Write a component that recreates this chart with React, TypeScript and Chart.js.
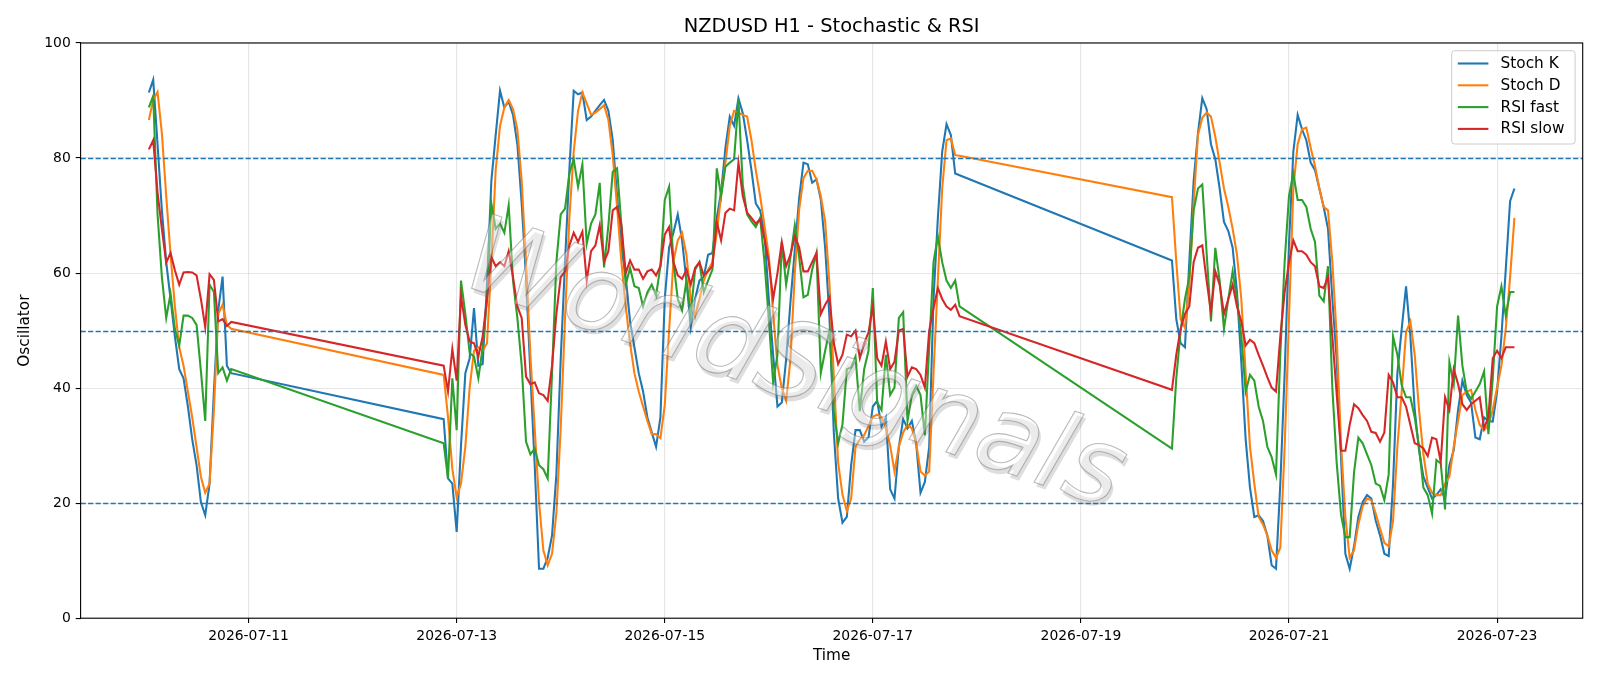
import React, { useEffect, useRef } from 'react';
import { Chart, registerables } from 'chart.js';

Chart.register(...registerables);

// ---- data ----
const TITLE = 'NZDUSD H1 - Stochastic & RSI';
const SEGMENT_STARTS = ['2026-07-10T01:00:00Z', '2026-07-12T21:00:00Z', '2026-07-19T21:00:00Z'];
const SEGMENT_HOURS = [20, 120, 80];

const STOCH_K = [
  // 07-10
  91.4, 93.6, 82.4, 70.9, 61.9, 55.5, 49.0, 43.3, 41.7, 36.8, 31.1, 26.6, 20.2, 17.9, 23.4, 39.4, 53.5, 59.4, 43.9, 42.6,
  // 07-12 21:00 .. 07-17 20:00
  34.6, 24.3, 23.4, 15.0, 30.0, 42.6, 45.2, 53.9, 43.9, 44.2, 58.0, 76.0, 84.0, 91.7, 88.8, 89.8, 87.5, 82.4, 72.1, 59.3,
  42.6, 26.6, 8.6, 8.6, 10.5, 14.4, 25.0, 45.0, 62.0, 78.0, 91.7, 91.1, 91.4, 86.6, 87.2, 88.2, 89.2, 90.1, 88.2, 83.1,
  73.4, 64.4, 59.3, 51.6, 47.1, 42.6, 39.4, 34.9, 32.3, 29.8, 34.9, 55.5, 64.4, 67.0, 70.2, 65.7, 58.7, 50.6, 55.5, 58.7,
  59.3, 63.2, 63.5, 69.6, 74.1, 81.8, 87.2, 85.6, 90.4, 87.8, 83.1, 77.9, 72.1, 70.9, 67.0, 55.5, 45.8, 36.8, 37.5, 45.0,
  55.0, 64.0, 73.0, 79.2, 78.9, 75.7, 76.3, 72.8, 64.4, 52.2, 32.3, 20.8, 16.6, 17.6, 26.6, 32.7, 32.7, 30.7, 31.4, 36.8,
  37.8, 33.3, 34.9, 22.4, 20.8, 29.8, 34.6, 33.0, 34.3, 30.4, 21.8, 23.7, 29.8, 55.5, 69.6, 81.1, 85.9, 84.0, 77.3, 77.0,
  // 07-19 21:00 .. 07-23 04:00
  62.2, 52.0, 47.8, 47.1, 61.9, 76.0, 84.3, 90.4, 88.5, 82.4, 79.8, 74.7, 68.9, 67.3, 64.4, 56.7, 44.5, 31.1, 22.7, 17.6,
  17.9, 16.9, 14.4, 9.2, 8.6, 23.4, 42.6, 65.1, 81.1, 87.5, 85.0, 83.1, 79.2, 77.9, 74.7, 71.5, 67.7, 55.5, 45.0, 28.0,
  11.2, 8.6, 12.5, 17.6, 20.2, 21.4, 20.8, 17.0, 14.4, 11.2, 10.8, 23.4, 42.6, 50.3, 57.7, 49.0, 36.2, 29.2, 24.6, 22.7,
  20.8, 21.4, 22.4, 20.8, 26.6, 29.2, 36.2, 41.3, 38.8, 37.5, 31.4, 31.1, 34.9, 34.3, 34.2, 39.4, 49.0, 60.6, 72.5, 74.7,
];

const STOCH_D = [
  86.6, 90.1, 91.5, 84.3, 73.4, 63.2, 54.2, 47.1, 43.9, 39.4, 34.9, 29.8, 24.6, 21.8, 23.4, 36.2, 52.9, 54.5, 51.0, 50.3,
  42.3, 35.0, 26.0, 21.0, 23.4, 29.8, 40.1, 46.5, 47.1, 46.5, 47.8, 61.9, 77.9, 85.6, 88.8, 90.1, 88.5, 85.0, 76.0, 61.9,
  45.8, 33.0, 20.2, 11.8, 9.2, 11.2, 18.2, 33.0, 52.2, 69.6, 81.1, 88.2, 91.4, 89.5, 87.5, 87.9, 88.5, 89.2, 86.6, 80.5,
  71.5, 61.9, 54.2, 47.8, 42.6, 39.4, 36.8, 34.3, 32.0, 32.0, 31.3, 37.0, 50.0, 62.0, 65.7, 67.0, 63.2, 55.5, 52.5, 55.5,
  58.7, 60.6, 61.9, 67.0, 73.4, 79.2, 85.6, 88.2, 87.9, 87.5, 87.2, 83.1, 77.9, 73.4, 68.3, 63.0, 53.0, 44.0, 40.0, 37.8,
  45.0, 60.0, 71.0, 76.5, 77.8, 77.8, 76.3, 73.4, 69.0, 58.0, 42.0, 27.0, 21.5, 18.6, 20.8, 29.8, 31.1, 31.8, 33.4, 35.0,
  35.4, 35.0, 33.0, 30.0, 25.5, 29.8, 32.3, 33.6, 33.0, 30.4, 25.5, 24.8, 25.5, 42.6, 58.7, 74.7, 83.1, 83.4, 80.5, 80.4,
  73.2, 62.0, 52.0, 50.5, 58.0, 72.0, 84.0, 87.0, 87.9, 87.2, 83.7, 79.2, 74.7, 71.5, 67.7, 63.2, 55.5, 42.6, 29.8, 23.4,
  17.6, 16.3, 14.4, 11.8, 10.5, 12.3, 29.8, 52.2, 74.7, 82.4, 85.0, 85.3, 81.8, 78.6, 74.7, 71.5, 70.9, 61.9, 49.0, 30.4,
  17.6, 10.5, 11.8, 16.3, 19.5, 20.8, 20.5, 18.2, 15.6, 13.1, 12.5, 16.9, 29.8, 39.4, 49.7, 51.6, 45.8, 36.2, 28.5, 23.4,
  21.8, 21.4, 21.4, 23.4, 24.6, 29.8, 34.3, 38.8, 39.4, 39.7, 36.2, 33.6, 32.7, 33.6, 36.2, 40.1, 43.9, 50.3, 59.3, 69.6,
];

const RSI_FAST = [
  88.8, 90.8, 70.2, 59.3, 52.2, 56.4, 50.3, 47.4, 52.6, 52.6, 52.2, 51.0, 43.0, 34.3, 58.0, 56.7, 42.6, 43.6, 41.3, 43.3,
  30.4, 24.3, 41.7, 32.7, 58.7, 52.9, 46.1, 45.5, 41.7, 47.1, 55.5, 72.1, 67.7, 68.6, 67.0, 71.8, 58.7, 52.2, 43.9, 30.7,
  28.5, 29.5, 26.6, 25.9, 24.3, 42.6, 61.9, 70.2, 71.2, 77.3, 79.8, 75.0, 78.9, 65.1, 68.6, 70.2, 75.7, 61.0, 68.3, 77.6,
  78.2, 68.3, 58.0, 60.9, 57.7, 57.4, 54.2, 56.7, 58.0, 56.1, 61.2, 72.7, 75.0, 61.9, 55.5, 53.5, 58.7, 52.9, 60.6, 61.9,
  56.7, 58.7, 60.6, 78.2, 73.4, 78.5, 79.2, 79.8, 90.1, 75.3, 70.2, 69.0, 68.0, 69.6, 62.0, 52.0, 41.0, 45.8, 65.4, 58.0,
  62.8, 68.3, 62.8, 55.8, 56.2, 60.6, 63.5, 42.6, 46.5, 50.0, 36.0, 30.4, 33.7, 43.3, 43.6, 45.5, 36.0, 43.3, 46.5, 57.4,
  37.5, 36.2, 45.8, 38.8, 40.1, 52.2, 53.2, 34.3, 38.8, 40.4, 38.8, 31.8, 47.1, 61.9, 66.4, 61.9, 58.7, 57.4, 58.7, 54.2,
  29.5, 41.7, 50.0, 55.5, 59.3, 70.9, 74.7, 75.4, 63.5, 51.6, 64.4, 58.7, 50.3, 55.5, 60.3, 55.5, 49.0, 39.4, 42.3, 41.3,
  36.8, 34.3, 29.8, 28.0, 25.0, 46.0, 62.0, 73.4, 77.3, 72.7, 72.7, 71.5, 67.7, 65.4, 56.1, 55.1, 61.2, 40.0, 27.0, 18.0,
  14.1, 14.1, 25.3, 31.4, 30.4, 28.5, 26.6, 23.4, 23.0, 20.5, 25.0, 49.0, 45.8, 40.5, 38.4, 38.4, 34.9, 29.8, 22.7, 21.4,
  18.2, 27.5, 26.9, 18.9, 44.5, 40.7, 52.6, 43.9, 39.4, 38.1, 39.4, 40.7, 42.9, 32.0, 41.7, 54.2, 57.7, 52.6, 56.7, 56.7,
];

const RSI_SLOW = [
  81.5, 83.1, 74.0, 67.7, 61.8, 63.5, 60.5, 58.0, 60.1, 60.2, 60.1, 59.6, 55.5, 50.6, 59.8, 58.8, 51.6, 52.0, 50.8, 51.5,
  43.9, 39.4, 46.8, 41.3, 56.0, 51.0, 48.1, 47.8, 45.5, 49.0, 55.5, 62.8, 61.2, 61.9, 61.2, 63.8, 59.3, 54.2, 52.2, 42.0,
  40.7, 41.0, 39.1, 38.8, 37.8, 43.9, 52.9, 59.3, 60.3, 64.8, 67.0, 65.4, 67.2, 58.7, 63.8, 64.8, 68.3, 61.9, 63.8, 70.9,
  71.5, 68.3, 60.0, 62.2, 60.6, 60.6, 59.0, 60.3, 60.6, 59.6, 61.2, 66.7, 68.0, 61.9, 59.6, 59.0, 60.6, 58.0, 60.9, 61.9,
  59.6, 60.3, 61.2, 68.9, 65.7, 70.5, 71.2, 70.9, 79.2, 73.4, 70.5, 69.6, 68.6, 69.3, 66.0, 61.9, 55.5, 60.0, 65.4, 61.2,
  63.2, 66.4, 64.5, 60.3, 60.3, 61.9, 63.5, 52.9, 54.5, 55.8, 47.8, 44.2, 45.8, 49.3, 49.0, 50.0, 45.2, 47.8, 49.7, 54.2,
  45.2, 43.9, 48.1, 43.3, 44.6, 50.0, 50.3, 42.0, 43.6, 43.3, 42.3, 40.1, 50.0, 53.9, 57.4, 55.5, 54.2, 53.6, 54.5, 52.5,
  39.7, 45.8, 50.3, 52.9, 54.2, 61.9, 64.4, 64.8, 58.7, 53.2, 60.3, 58.0, 52.9, 55.5, 58.0, 54.2, 51.6, 47.4, 48.4, 47.8,
  45.8, 43.9, 41.9, 40.1, 39.4, 49.0, 56.7, 61.9, 65.7, 63.8, 63.8, 63.2, 61.9, 61.2, 57.7, 57.4, 59.3, 49.0, 39.0, 29.1,
  29.1, 33.6, 37.2, 36.5, 35.3, 34.3, 32.4, 32.2, 30.7, 32.3, 42.3, 41.0, 38.4, 38.4, 36.8, 33.6, 30.4, 30.1, 29.5, 28.2,
  31.4, 31.1, 27.2, 38.4, 36.2, 43.3, 40.7, 37.2, 36.2, 37.2, 37.8, 38.4, 33.0, 35.0, 45.2, 46.5, 45.2, 47.1, 47.1, 47.1,
];

const SERIES_LABELS = ['Stoch K', 'Stoch D', 'RSI fast', 'RSI slow'];
const SERIES_COLORS = ['#1f77b4', '#ff7f0e', '#2ca02c', '#d62728'];
const X_TICK_LABELS = ['2026-07-11', '2026-07-13', '2026-07-15', '2026-07-17', '2026-07-19', '2026-07-21', '2026-07-23'];
const Y_TICKS = [0, 20, 40, 60, 80, 100];
const LEVELS = [80, 50, 20];
const X_RANGE = ['2026-07-09T09:15:00Z', '2026-07-23T19:45:00Z'];
const WATERMARK = 'WorldSignals';

const FONT = '"DejaVu Sans", "Liberation Sans", sans-serif';
const HOUR = 3600000;

function buildTimes(): number[] {
  const out: number[] = [];
  SEGMENT_STARTS.forEach((s, i) => {
    const t0 = Date.parse(s);
    for (let h = 0; h < SEGMENT_HOURS[i]; h++) out.push(t0 + h * HOUR);
  });
  return out;
}

const overlayPlugin = {
  id: 'mplOverlay',
  afterDatasetsDraw(chart: any) {
    const { ctx, chartArea: a, scales } = chart;
    const y = scales.y;
    ctx.save();
    // dashed reference levels
    ctx.strokeStyle = '#1f77b4';
    ctx.lineWidth = 1.4;
    ctx.setLineDash([5.2, 2.3]);
    LEVELS.forEach((lv) => {
      const py = Math.round(y.getPixelForValue(lv)) + 0.5;
      ctx.beginPath();
      ctx.moveTo(a.left, py);
      ctx.lineTo(a.right, py);
      ctx.stroke();
    });
    ctx.setLineDash([]);
    // watermark
    ctx.save();
    ctx.translate(793, 370);
    ctx.rotate((19 * Math.PI) / 180);
    ctx.font = `italic 106px ${FONT}`;
    ctx.textAlign = 'center';
    ctx.textBaseline = 'middle';
    ctx.fillStyle = 'rgba(90,90,90,0.2)';
    ctx.fillText(WATERMARK, 3.5, 3.5);
    ctx.fillStyle = 'rgba(255,255,255,0.38)';
    ctx.fillText(WATERMARK, 0, 0);
    ctx.strokeStyle = 'rgba(120,120,120,0.5)';
    ctx.lineWidth = 1.1;
    ctx.strokeText(WATERMARK, 0, 0);
    ctx.restore();
    // frame
    ctx.strokeStyle = '#000';
    ctx.lineWidth = 1.1;
    ctx.strokeRect(a.left, a.top, a.right - a.left, a.bottom - a.top);
    // title
    ctx.fillStyle = '#000';
    ctx.font = `19.4px ${FONT}`;
    ctx.textAlign = 'center';
    ctx.textBaseline = 'middle';
    ctx.fillText(TITLE, (a.left + a.right) / 2, 26.5);
    // legend
    const bx = 1451.7, by = 50.7, bw = 123.4, bh = 93.3;
    ctx.beginPath();
    ctx.roundRect(bx, by, bw, bh, 3);
    ctx.fillStyle = 'rgba(255,255,255,0.8)';
    ctx.fill();
    ctx.strokeStyle = '#cccccc';
    ctx.lineWidth = 1;
    ctx.stroke();
    ctx.font = `15.3px ${FONT}`;
    ctx.textAlign = 'left';
    SERIES_LABELS.forEach((lab, i) => {
      const ry = 63.5 + i * 21.8;
      ctx.strokeStyle = SERIES_COLORS[i];
      ctx.lineWidth = 2.08;
      ctx.beginPath();
      ctx.moveTo(1457.8, ry);
      ctx.lineTo(1488.4, ry);
      ctx.stroke();
      ctx.fillStyle = '#000';
      ctx.fillText(lab, 1500.6, ry + 0.5);
    });
    ctx.restore();
  },
};

export default function App() {
  const ref = useRef<HTMLCanvasElement | null>(null);
  useEffect(() => {
    document.body.style.margin = '0';
    const times = buildTimes();
    const seriesValues = [STOCH_K, STOCH_D, RSI_FAST, RSI_SLOW];
    const datasets = seriesValues.map((vals, i) => ({
      label: SERIES_LABELS[i],
      data: vals.map((v, k) => ({ x: times[k], y: v })),
      borderColor: SERIES_COLORS[i],
      backgroundColor: SERIES_COLORS[i],
      borderWidth: 2.08,
      pointRadius: 0,
      tension: 0,
      fill: false,
      order: 4 - i,
    }));
    const tickFont = { family: FONT, size: 13.9 };
    const gridColor = 'rgba(176,176,176,0.32)';
    const chart = new Chart(ref.current as HTMLCanvasElement, {
      type: 'line',
      data: { datasets },
      options: {
        animation: false,
        responsive: false,
        devicePixelRatio: 1,
        layout: { padding: { left: 0, right: 17.3, top: 43, bottom: 0 } },
        plugins: { legend: { display: false }, title: { display: false }, tooltip: { enabled: false } },
        scales: {
          x: {
            type: 'linear',
            min: Date.parse(X_RANGE[0]),
            max: Date.parse(X_RANGE[1]),
            afterBuildTicks: (scale: any) => {
              scale.ticks = X_TICK_LABELS.map((d) => ({ value: Date.parse(d + 'T00:00:00Z') }));
            },
            afterFit: (scale: any) => {
              scale.height = 67.8;
            },
            ticks: {
              font: tickFont,
              color: '#000',
              padding: 4.9,
              maxRotation: 0,
              autoSkip: false,
              callback: (v: any) => new Date(Number(v)).toISOString().slice(0, 10),
            },
            grid: { color: gridColor, lineWidth: 1.1, tickColor: '#000', tickLength: 4.9, tickWidth: 1.1 },
            border: { display: false },
            title: { display: true, text: 'Time', color: '#000', font: { family: FONT, size: 15.3 }, padding: { top: 0, bottom: 20.8 } },
          },
          y: {
            min: 0,
            max: 100,
            afterBuildTicks: (scale: any) => {
              scale.ticks = Y_TICKS.map((v) => ({ value: v }));
            },
            afterFit: (scale: any) => {
              scale.width = 80.6;
            },
            ticks: { font: tickFont, color: '#000', padding: 4.9 },
            grid: { color: gridColor, lineWidth: 1.1, tickColor: '#000', tickLength: 4.9, tickWidth: 1.1 },
            border: { display: false },
            title: { display: true, text: 'Oscillator', color: '#000', font: { family: FONT, size: 15.3 }, padding: { top: 16.3, bottom: 0 } },
          },
        },
      },
      plugins: [overlayPlugin],
    } as any);
    return () => chart.destroy();
  }, []);
  return (
    <div style={{ width: 1600, height: 686 }}>
      <canvas ref={ref} width={1600} height={686} style={{ display: 'block' }} />
    </div>
  );
}
